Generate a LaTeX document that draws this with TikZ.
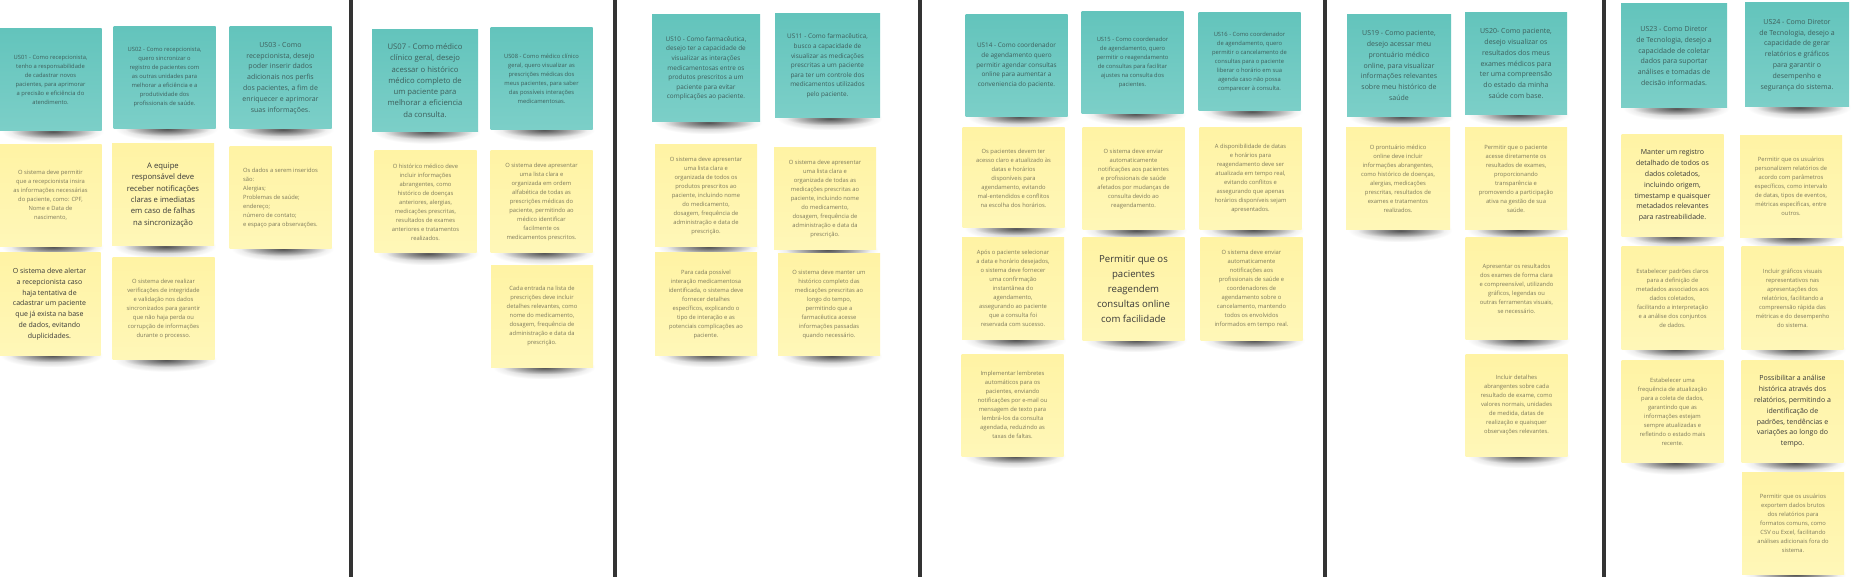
\documentclass[tikz,border=0pt]{standalone}
\usepackage{fontspec}
\setmainfont{Open Sans}
\usetikzlibrary{backgrounds,fadings}
\definecolor{noteteal}{HTML}{63C4BC}
\definecolor{noteteallow}{HTML}{7CCFC8}
\definecolor{noteyellow}{HTML}{FFF3A4}
\definecolor{noteyellowlow}{HTML}{FFF7B8}
\definecolor{tealink}{HTML}{3E5E5B}
\definecolor{yellowink}{HTML}{7E7A5C}
\definecolor{darkink}{HTML}{383838}
\definecolor{laneline}{HTML}{333333}
\tikzfading[name=shadow blob, inner color=transparent!0, outer color=transparent!100]

\begin{document}
\begin{tikzpicture}[x=1pt, y=-1pt,
   sticky/.style={rectangle, inner sep=1pt, align=center, minimum width=102pt, minimum height=102pt},
   story/.style={sticky, top color=noteteal, bottom color=noteteallow, text=tealink},
   criterion/.style={sticky, top color=noteyellow, bottom color=noteyellowlow, text=yellowink},
   small print/.style={font=\fontsize{5.8}{9}\selectfont},
   mid print/.style={font=\fontsize{6.4}{9.6}\selectfont},
   big print/.style={font=\fontsize{7}{10.8}\selectfont},
   bigger print/.style={font=\fontsize{7.7}{11.3}\selectfont, text=darkink},
   huge print/.style={font=\fontsize{9.6}{15}\selectfont, text=darkink},
   lane/.style={draw=laneline, line width=4pt}]
   \useasboundingbox (0,0) rectangle (1851,577);

   \foreach \x in {351,615,920,1325,1604}
      \draw[lane] (\x,0) -- (\x,577);

   \node[story, small print] (us01) at (50.5,80) {US01 - Como recepcionista,\\tenho a responsabilidade\\de cadastrar novos\\pacientes,  para aprimorar\\a precisão e eficiência do\\atendimento.};
   \node[story, small print] (us02) at (164.5,77.5) {US02 - Como recepcionista,\\quero sincronizar o\\registro de pacientes com\\as outras unidades para\\melhorar a eficiência e a\\produtividade dos\\profissionais de saúde.};
   \node[story, big print] (us03) at (280.5,78) {US03 - Como\\recepcionista, desejo\\poder inserir dados\\adicionais nos perfis\\dos pacientes, a fim de\\enriquecer e aprimorar\\suas informações.};
   \node[criterion, small print] (c1a) at (50.5,195.5) {O sistema deve permitir\\que a recepcionista insira\\as informações necessárias\\do paciente, como: CPF,\\Nome e Data de\\nascimento,};
   \node[criterion, bigger print] (c1b) at (163,195) {A equipe\\responsável deve\\receber notificações\\claras e imediatas\\em caso de falhas\\na sincronização};
   \node[criterion, small print, align=left] (c1c) at (280.5,197.5) {Os dados a serem inseridos\\são:\\Alergias;\\Problemas de saúde;\\endereço;\\número de contato;\\e espaço para observações.};
   \node[criterion, big print, text=darkink] (c1d) at (49.5,304) {O sistema deve alertar\\a recepcionista caso\\haja tentativa de\\cadastrar um paciente\\que já exista na base\\de dados, evitando\\duplicidades.};
   \node[criterion, small print] (c1e) at (163.5,308.5) {O sistema deve realizar\\verificações de integridade\\e validação nos dados\\sincronizados para garantir\\que não haja perda ou\\corrupção de informações\\durante o processo.};

   \node[story, bigger print, text=tealink, minimum width=106pt] (us07) at (425,80.5) {US07 - Como médico\\clínico geral, desejo\\acessar  o histórico\\médico completo de\\um paciente para\\melhorar a eficiencia\\da consulta.};
   \node[story, small print] (us08) at (541.5,78.5) {US08 - Como médico clínico\\geral, quero visualizar  as\\prescrições médicas dos\\meus pacientes, para saber\\das possíveis interações\\medicamentosas.};
   \node[criterion, small print] (c2a) at (425.5,202) {O histórico médico deve\\incluir informações\\abrangentes, como\\histórico de doenças\\anteriores, alergias,\\medicações prescritas,\\resultados de exames\\anteriores e tratamentos\\realizados.};
   \node[criterion, small print] (c2b) at (541.5,201.5) {O sistema deve apresentar\\uma lista clara e\\organizada em ordem\\alfabética de todas as\\prescrições médicas do\\paciente, permitindo ao\\médico identificar\\facilmente os\\medicamentos prescritos.};
   \node[criterion, small print] (c2c) at (542,316) {Cada entrada na lista de\\prescrições deve incluir\\detalhes relevantes, como\\nome do medicamento,\\dosagem, frequência de\\administração e data da\\prescrição.};

   \node[story, mid print, minimum width=108pt, minimum height=107pt] (us10) at (706,68.5) {US10 -  Como farmacêutica,\\desejo ter a capacidade de\\visualizar as interações\\medicamentosas entre os\\produtos prescritos a um\\paciente para evitar\\complicações ao paciente.};
   \node[story, mid print, minimum width=105pt, minimum height=104pt] (us11) at (827.5,66) {US11 - Como farmacêutica,\\busco a capacidade de\\visualizar as medicações\\prescritas a um paciente\\para ter um controle dos\\medicamentos utilizados\\pelo paciente.};
   \node[criterion, small print] (c3a) at (706,195.5) {O sistema deve apresentar\\uma lista clara e\\organizada de todos os\\produtos prescritos ao\\paciente, incluindo nome\\do medicamento,\\dosagem, frequência de\\administração e data de\\prescrição.};
   \node[criterion, small print] (c3b) at (825,198.5) {O sistema deve apresentar\\uma lista clara e\\organizada de todas as\\medicações prescritas ao\\paciente, incluindo nome\\do medicamento,\\dosagem, frequência de\\administração e data da\\prescrição.};
   \node[criterion, small print] (c3c) at (706,304) {Para cada possível\\interação medicamentosa\\identificada, o sistema deve\\fornecer detalhes\\específicos, explicando o\\tipo de interação e as\\potenciais complicações ao\\paciente.};
   \node[criterion, small print] (c3d) at (829,304.5) {O sistema deve manter um\\histórico completo das\\medicações prescritas ao\\longo do tempo,\\permitindo que a\\farmacêutica acesse\\informações passadas\\quando necessário.};

   \node[story, mid print] (us14) at (1016.5,65.5) {US14 - Como coordenador\\de agendamento quero\\permitir agendar consultas\\online para aumentar a\\conveniencia do paciente.};
   \node[story, small print] (us15) at (1132.5,62.5) {US15 - Como coordenador\\de agendamento, quero\\permitir o reagendamento\\de consultas para facilitar\\ajustes na consulta dos\\pacientes.};
   \node[story, small print, minimum height=98pt] (us16) at (1249.5,62) {US16 - Como coordenador\\de agendamento, quero\\permitir o cancelamento de\\consultas para o paciente\\liberar o horário em sua\\agenda caso não possa\\comparecer à consulta.};
   \node[criterion, small print, minimum height=100pt] (c4a) at (1013.5,178) {Os pacientes devem ter\\acesso claro e atualizado às\\datas e horários\\disponíveis para\\agendamento, evitando\\mal-entendidos e conflitos\\na escolha dos horários.};
   \node[criterion, small print] (c4b) at (1133.5,179) {O sistema deve enviar\\automaticamente\\notificações aos pacientes\\e profissionais de saúde\\afetados por mudanças de\\consulta devido ao\\reagendamento.};
   \node[criterion, small print] (c4c) at (1250.5,178.5) {A disponibilidade de datas\\e horários para\\reagendamento deve ser\\atualizada em tempo real,\\evitando conflitos e\\assegurando que apenas\\horários disponíveis sejam\\apresentados.};
   \node[criterion, small print] (c4d) at (1013,288.5) {Após o paciente selecionar\\a data e horário desejados,\\o sistema deve fornecer\\uma confirmação\\instantânea do\\agendamento,\\assegurando ao paciente\\que a consulta foi\\reservada com sucesso.};
   \node[criterion, huge print] (c4e) at (1133.5,289) {Permitir que os\\pacientes\\reagendem\\consultas online\\com facilidade};
   \node[criterion, small print] (c4f) at (1251.5,289) {O sistema deve enviar\\automaticamente\\notificações aos\\profissionais de saúde e\\coordenadores de\\agendamento sobre o\\cancelamento, mantendo\\todos os envolvidos\\informados em tempo real.};
   \node[criterion, small print] (c4g) at (1012.5,405) {Implementar lembretes\\automáticos para os\\pacientes, enviando\\notificações por e-mail ou\\mensagem de texto para\\lembrá-los da consulta\\agendada, reduzindo as\\taxas de faltas.};

   \node[story, big print, minimum width=104pt] (us19) at (1399,65.5) {US19 - Como paciente,\\desejo  acessar  meu\\prontuário médico\\online, para visualizar\\informações relevantes\\sobre meu histórico de\\saúde};
   \node[story, big print] (us20) at (1516,63.5) {US20- Como paciente,\\desejo visualizar os\\resultados dos meus\\exames médicos para\\ter uma compreensão\\do estado da minha\\saúde com base.};
   \node[criterion, small print, minimum width=104pt] (c5a) at (1398,179) {O prontuário médico\\online deve incluir\\informações abrangentes,\\como histórico de doenças,\\alergias, medicações\\prescritas, resultados de\\exames e tratamentos\\realizados.};
   \node[criterion, small print] (c5b) at (1516,178.5) {Permitir que o paciente\\acesse diretamente os\\resultados de exames,\\proporcionando\\transparência e\\promovendo a participação\\ativa na gestão de sua\\saúde.};
   \node[criterion, small print] (c5c) at (1516.5,288.5) {Apresentar os resultados\\dos exames de forma clara\\e compreensível, utilizando\\gráficos, legendas ou\\outras ferramentas visuais,\\se necessário.};
   \node[criterion, small print] (c5d) at (1516.5,405) {Incluir detalhes\\abrangentes sobre cada\\resultado de exame, como\\valores normais, unidades\\de medida, datas de\\realização e quaisquer\\observações relevantes.};

   \node[story, big print, minimum width=106pt, minimum height=104pt] (us23) at (1674,56) {US23 -  Como Diretor\\de Tecnologia, desejo a\\capacidade de coletar\\dados  para suportar\\análises e tomadas de\\decisão informadas.};
   \node[story, big print, minimum width=104pt, minimum height=104pt] (us24) at (1797,55) {US24 -  Como Diretor\\de Tecnologia, desejo a\\capacidade de gerar\\relatórios e gráficos\\para garantir o\\desempenho e\\segurança do sistema.};
   \node[criterion, big print, text=darkink] (c6a) at (1672.5,185.5) {Manter um registro\\detalhado de todos os\\dados coletados,\\incluindo origem,\\timestamp e quaisquer\\metadados relevantes\\para rastreabilidade.};
   \node[criterion, small print] (c6b) at (1791,186.5) {Permitir que os usuários\\personalizem relatórios de\\acordo com parâmetros\\específicos, como intervalo\\de datas, tipos de eventos,\\métricas específicas, entre\\outros.};
   \node[criterion, small print] (c6c) at (1672.5,298) {Estabelecer padrões claros\\para a definição de\\metadados associados aos\\dados coletados,\\facilitando a interpretação\\e a análise dos conjuntos\\de dados.};
   \node[criterion, small print] (c6d) at (1792.5,298) {Incluir gráficos visuais\\representativos nas\\apresentações dos\\relatórios, facilitando a\\compreensão rápida das\\métricas e do desempenho\\do sistema.};
   \node[criterion, small print] (c6e) at (1672.5,411.5) {Estabelecer uma\\frequência de atualização\\para a coleta de dados,\\garantindo que as\\informações estejam\\sempre atualizadas e\\refletindo o estado mais\\recente.};
   \node[criterion, big print, text=darkink] (c6f) at (1792.5,411.5) {Possibilitar a análise\\histórica através dos\\relatórios, permitindo a\\identificação de\\padrões, tendências e\\variações ao longo do\\tempo.};
   \node[criterion, small print] (c6g) at (1793,523) {Permitir que os usuários\\exportem dados brutos\\dos relatórios para\\formatos comuns, como\\CSV ou Excel, facilitando\\análises adicionais fora do\\sistema.};

   \begin{scope}[on background layer]
      \fill[white] (0,0) rectangle (1851,577);
      \foreach \n in {us01,us02,us03,c1a,c1b,c1c,c1d,c1e,us07,us08,c2a,c2b,c2c,us10,us11,c3a,c3b,c3c,c3d,us14,us15,us16,c4a,c4b,c4c,c4d,c4e,c4f,c4g,us19,us20,c5a,c5b,c5c,c5d,us23,us24,c6a,c6b,c6c,c6d,c6e,c6f,c6g} {
         \fill[black, opacity=.35, path fading=shadow blob] ([xshift=2pt, yshift=12pt]\n.south west) rectangle ([xshift=2pt, yshift=-12pt]\n.south east);
         \fill[black, opacity=.5, path fading=shadow blob] ([xshift=12pt, yshift=6pt]\n.south west) rectangle ([xshift=-6pt, yshift=-7pt]\n.south east);
      }
   \end{scope}
\end{tikzpicture}
\end{document}
